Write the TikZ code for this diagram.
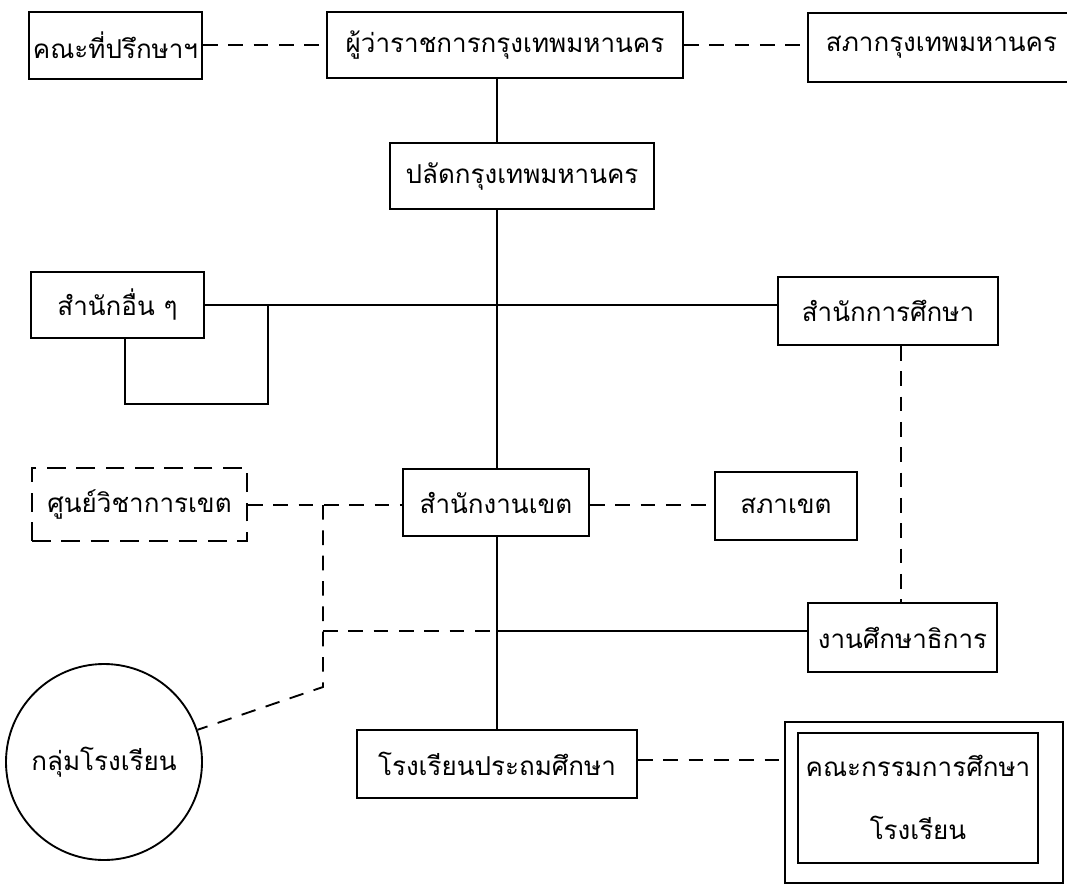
\documentclass[tikz,border=0pt]{standalone}
\usepackage{fontspec}
\newfontfamily\thaifont[Script=Thai]{Loma}
\usetikzlibrary{calc}
\tikzset{
  lbl/.style={font=\thaifont\fontsize{19.5}{22}\selectfont},
  box/.style={draw, line width=1.4pt, inner sep=0pt, align=center, lbl},
  dashbox/.style={box, dash pattern=on 14pt off 8pt},
  link/.style={line width=1.4pt},
  dlink/.style={line width=1.4pt, dash pattern=on 11pt off 8pt},
}
\begin{document}
\begin{tikzpicture}[x=0.75pt,y=-0.75pt]
\useasboundingbox (0,0) rectangle (1067,885);
\fill[white] (0,0) rectangle (1067,885);
% nodes
\node[box, minimum width=173*0.75pt, minimum height=67*0.75pt] (A) at (115.5,45.5) {คณะที่ปรึกษาฯ};
\node[box, minimum width=356*0.75pt, minimum height=66*0.75pt] (B) at (505,45) {ผู้ว่าราชการกรุงเทพมหานคร};
\node[box, minimum width=267*0.75pt, minimum height=69*0.75pt] (C) at (941.5,47.5) {สภากรุงเทพมหานคร};
\node[box, minimum width=264*0.75pt, minimum height=66*0.75pt] (D) at (522,176) {ปลัดกรุงเทพมหานคร};
\node[box, minimum width=173*0.75pt, minimum height=66*0.75pt] (E) at (117.5,305) {สำนักอื่น ๆ};
\node[box, minimum width=220*0.75pt, minimum height=68*0.75pt] (F) at (888,311) {สำนักการศึกษา};
\node[dashbox, minimum width=215*0.75pt, minimum height=73*0.75pt] (G) at (139.5,504.5) {ศูนย์วิชาการเขต};
\node[box, minimum width=186*0.75pt, minimum height=67*0.75pt] (H) at (496,502.5) {สำนักงานเขต};
\node[box, minimum width=142*0.75pt, minimum height=68*0.75pt] (I) at (786,506) {สภาเขต};
\node[box, minimum width=189*0.75pt, minimum height=69*0.75pt] (J) at (902.5,637.5) {งานศึกษาธิการ};
\node[box, circle, minimum size=196*0.75pt] (K) at (104,762) {กลุ่มโรงเรียน};
\node[box, minimum width=280*0.75pt, minimum height=68*0.75pt] (L) at (497,764) {โรงเรียนประถมศึกษา};
\node[box, minimum width=278*0.75pt, minimum height=161*0.75pt] (M) at (924,802.5) {};
\node[box, minimum width=240*0.75pt, minimum height=130*0.75pt] (N) at (918,798) {};
\node[lbl, inner sep=0pt] (N1) at (918,766) {คณะกรรมการศึกษา};
\node[lbl, inner sep=0pt] (N2) at (918,828) {โรงเรียน};
% helper coordinates
\coordinate (sp) at (497,0);
\coordinate (eline) at (0,305);
\coordinate (br) at (268,305);
\coordinate (brb) at (268,404);
\coordinate (ebx) at (125,0);
\coordinate (dv) at (323,505);
\coordinate (dvb) at (323,687);
\coordinate (hl) at (0,631);
\coordinate (fx) at (901,0);
% connectors
\draw[dlink] (A.east |- 0,45) -- (B.west |- 0,45);
\draw[dlink] (B.east |- 0,45) -- (C.west |- 0,45);
\draw[link] (B.south -| sp) -- (D.north -| sp);
\draw[link] (D.south -| sp) -- (H.north -| sp);
\draw[link] (E.east |- eline) -- (F.west |- eline);
\draw[link] (br) -- (brb) -- (brb -| ebx) -- (E.south -| ebx);
\draw[dlink] (G.east |- dv) -- (H.west |- dv);
\draw[dlink] (H.east |- dv) -- (I.west |- dv);
\draw[dlink] (dv) -- (dvb) -- (K.19);
\draw[dlink] (dv |- hl) -- (sp |- hl);
\draw[link] (sp |- hl) -- (J.west |- hl);
\draw[link] (H.south -| sp) -- (L.north -| sp);
\draw[dlink] (F.south -| fx) -- (J.north -| fx);
\draw[dlink] (L.east |- 0,760) -- (M.west |- 0,760);
\end{tikzpicture}
\end{document}
